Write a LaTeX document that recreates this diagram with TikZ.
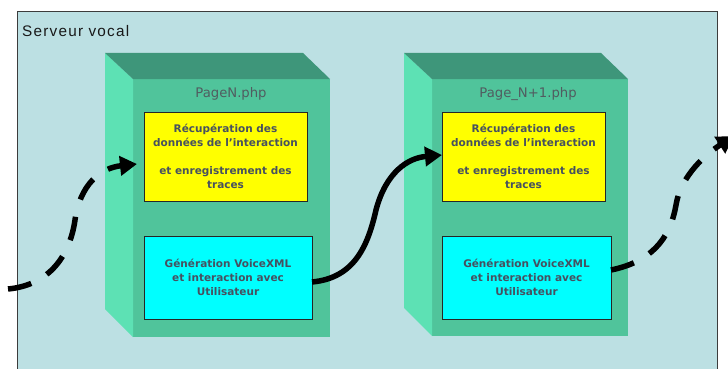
\documentclass[tikz,border=0pt]{standalone}
\usepackage{fontspec}
\newfontfamily\dvs{DejaVu Sans}
\newfontfamily\libs[LetterSpace=8]{Liberation Sans}
\usetikzlibrary{arrows.meta,calc}
\definecolor{bgc}{RGB}{188,224,227}
\definecolor{framec}{RGB}{60,60,60}
\definecolor{frontc}{RGB}{80,196,155}
\definecolor{sidec}{RGB}{93,225,180}
\definecolor{topc}{RGB}{62,150,122}
\definecolor{txtc}{RGB}{70,80,96}
\definecolor{titc}{RGB}{80,92,96}
\definecolor{cyanc}{RGB}{0,255,255}
\definecolor{yellowc}{RGB}{255,255,0}
\begin{document}
\begin{tikzpicture}[x=1pt,y=-1pt,
  frontface/.style={fill=frontc, inner sep=0pt, outer sep=0pt},
  textbox/.style={draw=black!85, line width=0.8pt, inner sep=0pt, outer sep=0pt, align=center,
    font=\dvs\bfseries\fontsize{10.5}{14}\selectfont, text=txtc},
  yellowbox/.style={textbox, fill=yellowc, minimum width=163pt, minimum height=89pt},
  cyanbox/.style={textbox, fill=cyanc, minimum height=83pt},
  pagetitle/.style={font=\dvs\fontsize{13.2}{15}\selectfont, text=titc, inner sep=0pt},
  flow/.style={line width=5.5pt, -{Triangle[length=17pt,width=19pt]}},
  dashedflow/.style={flow, dash pattern=on 24pt off 18pt}
]
\useasboundingbox (0,0) rectangle (728,369);
\clip (0,0) rectangle (728,369);
% frame
\fill[bgc] (17,12) rectangle (717,390);
\draw[framec, line width=1pt] (17,390) -- (17,12) -- (717,12) -- (717,390);
\node[anchor=base west, font=\libs\fontsize{15.3}{18}\selectfont, text=black!90, inner sep=0pt] (server) at (22,37) {Serveur vocal};

% cube 1
\node[frontface, minimum width=197pt, minimum height=258pt] (f1) at (231.5,208) {};
\fill[sidec] ($(f1.north west)+(-28,-26)$) -- (f1.north west) -- (f1.south west) -- ($(f1.south west)+(-28,-28)$) -- cycle;
\fill[topc] ($(f1.north west)+(-28,-26)$) -- ($(f1.north east)+(-27,-26)$) -- (f1.north east) -- (f1.north west) -- cycle;
\node[pagetitle] (t1) at (231,94) {PageN.php};
\node[yellowbox] (y1) at (225.5,156.5) {Récupération des\\données de l’interaction\\[14pt]et enregistrement des\\traces};
\node[cyanbox, minimum width=168pt] (c1) at (228,277.5) {Génération VoiceXML\\et interaction avec\\Utilisateur};

% cube 2
\node[frontface, minimum width=196pt, minimum height=257pt] (f2) at (530,207.5) {};
\fill[sidec] ($(f2.north west)+(-28,-26)$) -- (f2.north west) -- (f2.south west) -- ($(f2.south west)+(-28,-28)$) -- cycle;
\fill[topc] ($(f2.north west)+(-28,-26)$) -- ($(f2.north east)+(-27,-26)$) -- (f2.north east) -- (f2.north west) -- cycle;
\node[pagetitle] (t2) at (528,94) {Page\_N+1.php};
\node[yellowbox] (y2) at (523.5,156.5) {Récupération des\\données de l’interaction\\[14pt]et enregistrement des\\traces};
\node[cyanbox, minimum width=169pt] (c2) at (526.5,277.5) {Génération VoiceXML\\et interaction avec\\Utilisateur};

% connectors
\coordinate (s1) at (8,289);
\coordinate (e3) at (734,136);
\draw[dashedflow] (s1) .. controls (50,285) and (70,255) .. (75,220)
  .. controls (80,185) and (100,168) .. ([xshift=-7pt,yshift=-7.5pt]y1.west);
\draw[flow] ([yshift=-4.5pt]c1.east) .. controls (355,278) and (368,245) .. (376,210)
  .. controls (386,172) and (408,158) .. ([yshift=1.5pt]y2.west);
\draw[dashedflow] ([yshift=7.5pt]c2.east) .. controls (650,262) and (670,240) .. (676,205)
  .. controls (680,180) and (700,158) .. (e3);
\end{tikzpicture}
\end{document}
